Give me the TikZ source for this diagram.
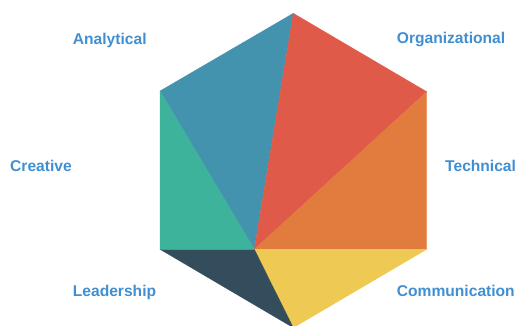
\documentclass[tikz,border=0pt]{standalone}
\usepackage{fontspec}
\setmainfont{Liberation Sans}
\definecolor{skillblue}{HTML}{4393AE}
\definecolor{skillred}{HTML}{E05A4A}
\definecolor{skillorange}{HTML}{E27B3E}
\definecolor{skillyellow}{HTML}{EEC953}
\definecolor{skilldark}{HTML}{344D5C}
\definecolor{skillgreen}{HTML}{3EB39C}
\definecolor{labelblue}{HTML}{3F8FD2}
\tikzset{
  wedge/.style={fill=#1, draw=#1, line width=0.3pt, line join=round},
  skilllabel/.style={anchor=base west, inner sep=0pt, text=labelblue,
    font=\fontsize{15.6}{18}\selectfont\bfseries}
}
\begin{document}
\begin{tikzpicture}[x=1pt,y=-1pt]
  \useasboundingbox (0,0) rectangle (515,325);
  \clip (0,0) rectangle (515,325);
  % hexagon corners and the shared inner point
  \coordinate (top) at (293.3,13.3);
  \coordinate (ur)  at (426.7,91.7);
  \coordinate (lr)  at (426.7,249.3);
  \coordinate (bot) at (293.3,327.7);
  \coordinate (ll)  at (160,249.3);
  \coordinate (ul)  at (160,91.0);
  \coordinate (hub) at (254.3,249.3);
  % six coloured triangles
  \fill[wedge=skillblue]   (hub) -- (ul) -- (top) -- cycle;
  \fill[wedge=skillred]    (hub) -- (top) -- (ur) -- cycle;
  \fill[wedge=skillorange] (hub) -- (ur) -- (lr) -- cycle;
  \fill[wedge=skillyellow] (hub) -- (lr) -- (bot) -- cycle;
  \fill[wedge=skilldark]   (hub) -- (bot) -- (ll) -- cycle;
  \fill[wedge=skillgreen]  (hub) -- (ll) -- (ul) -- cycle;
  % labels
  \node[skilllabel] (analytical) at (72.7,44.2) {Analytical};
  \node[skilllabel] (creative) at (10,171.2) {Creative};
  \node[skilllabel] (leadership) at (72.7,296.6) {Leadership};
  \node[skilllabel] (organizational) at (396.7,43.4) {Organizational};
  \node[skilllabel] (technical) at (445,171.2) {Technical};
  \node[skilllabel] (communication) at (396.7,296.6) {Communication};
\end{tikzpicture}
\end{document}
